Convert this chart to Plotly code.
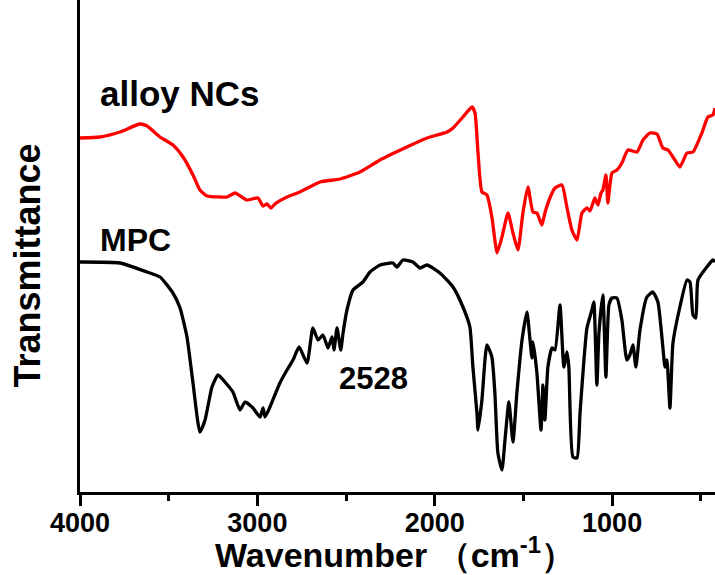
import plotly.graph_objects as go

# MPC spectrum (black)
mpc_wn = [4000, 3775, 3622, 3549, 3476, 3436, 3397, 3363, 3324, 3295, 3256, 3222, 3183, 3138, 3098, 3070,
          3025, 2985, 2968, 2957, 2929, 2873, 2833, 2799, 2765, 2720, 2687, 2658, 2630, 2602, 2579, 2568,
          2551, 2530, 2517, 2495, 2461, 2405, 2365, 2309, 2236, 2213, 2179, 2123, 2083, 2044, 1971, 1897,
          1841, 1802, 1785, 1762, 1756, 1734, 1706, 1678, 1661, 1644, 1621, 1604, 1582, 1559, 1537, 1508,
          1480, 1463, 1452, 1446, 1424, 1401, 1390, 1379, 1362, 1339, 1322, 1294, 1272, 1255, 1244, 1221,
          1198, 1181, 1142, 1114, 1103, 1086, 1074, 1052, 1035, 1018, 1001, 973, 945, 917, 900, 883, 866,
          843, 804, 770, 742, 714, 702, 691, 674, 657, 618, 578, 561, 544, 528, 516, 466, 432, 420]
mpc_t = [230, 229, 220, 215, 199, 184, 155, 109, 60, 72, 105, 117, 110, 100, 82, 90,
         84, 75, 84, 75, 85, 109, 122, 132, 145, 129, 164, 152, 157, 144, 155, 142,
         164, 142, 159, 182, 202, 210, 220, 227, 229, 225, 232, 230, 224, 227, 219, 205,
         185, 165, 125, 79, 62, 92, 147, 135, 99, 39, 22, 52, 90, 50, 99, 152,
         180, 152, 134, 150, 119, 62, 107, 72, 125, 144, 142, 187, 125, 140, 125, 35,
         34, 79, 164, 182, 190, 107, 160, 197, 115, 187, 194, 194, 172, 132, 137, 147, 125,
         162, 195, 200, 190, 145, 125, 132, 84, 149, 185, 212, 210, 177, 174, 212, 225, 232, 230]

# alloy NCs spectrum (red)
nc_wn = [4000, 3887, 3775, 3662, 3622, 3549, 3476, 3419, 3363, 3324, 3284, 3211, 3171, 3126, 3059, 2997,
         2968, 2946, 2923, 2901, 2833, 2760, 2647, 2534, 2422, 2309, 2157, 2044, 1931, 1897, 1841, 1790,
         1773, 1756, 1734, 1706, 1678, 1661, 1649, 1621, 1587, 1559, 1531, 1503, 1475, 1446, 1424, 1396,
         1379, 1351, 1322, 1283, 1255, 1227, 1198, 1170, 1142, 1125, 1097, 1080, 1063, 1052, 1035, 1029,
         1024, 1001, 973, 945, 911, 860, 826, 787, 747, 714, 685, 646, 618, 578, 544, 494, 460, 432, 420]
nc_t = [354, 355, 360, 368, 366, 355, 347, 335, 317, 302, 296, 295, 295, 299, 292, 294,
        286, 288, 284, 288, 295, 300, 310, 313, 320, 332, 345, 354, 360, 364, 375, 385,
        379, 339, 300, 297, 275, 252, 239, 255, 279, 259, 242, 279, 305, 280, 279, 267,
        279, 294, 304, 307, 285, 262, 252, 279, 284, 281, 294, 287, 299, 302, 317, 302,
        289, 319, 322, 329, 342, 340, 352, 359, 358, 344, 342, 332, 325, 339, 340, 359, 375, 377, 384]

labels = ["alloy NCs", "MPC", "2528"]
label_wn = [3899, 3899, 2551]
label_t = [399, 252, 114]

FONT = "Liberation Sans, Arial, sans-serif"

fig = go.Figure()
fig.add_trace(go.Scatter(x=nc_wn, y=nc_t, mode="lines",
                         line=dict(color="#ff0000", width=3.3, shape="spline", smoothing=0.5),
                         showlegend=False, hoverinfo="skip"))
fig.add_trace(go.Scatter(x=mpc_wn, y=mpc_t, mode="lines",
                         line=dict(color="#000000", width=3.3, shape="spline", smoothing=0.5),
                         showlegend=False, hoverinfo="skip"))

sizes = [35, 32, 31]
for txt, xw, yt, s in zip(labels, label_wn, label_t, sizes):
    fig.add_annotation(x=xw, y=yt, text=txt, showarrow=False, xanchor="left", yanchor="middle",
                       font=dict(family=FONT, size=s, color="black", weight="bold"))

fig.add_annotation(xref="paper", yref="paper", x=-0.082, y=0.46, text="Transmittance",
                   textangle=-90, showarrow=False, xanchor="center", yanchor="middle",
                   font=dict(family=FONT, size=36, color="black", weight="bold"))
fig.add_annotation(xref="paper", yref="paper", x=0.496, y=-0.122,
                   text="Wavenumber （cm<sup>-1</sup>）", showarrow=False,
                   xanchor="center", yanchor="middle",
                   font=dict(family=FONT, size=34, color="black", weight="bold"))

fig.update_layout(
    width=715, height=575,
    margin=dict(l=80, r=0, t=0, b=83),
    paper_bgcolor="white", plot_bgcolor="white",
    xaxis=dict(range=[4000, 420], showgrid=False, zeroline=False,
               showline=True, linecolor="black", linewidth=3,
               ticks="outside", ticklen=11, tickwidth=3, tickcolor="black",
               tick0=0, dtick=1000, ticklabelstandoff=-6,
               minor=dict(ticks="outside", ticklen=6, tickwidth=3, tickcolor="black", dtick=500, tick0=0),
               tickfont=dict(family=FONT, size=27, color="black", weight="bold")),
    yaxis=dict(range=[0, 492], showgrid=False, zeroline=False,
               showline=True, linecolor="black", linewidth=3,
               showticklabels=False, ticks=""),
)

fig.write_html("out.html", config={"displayModeBar": False},
               post_script="document.body.style.margin='0';")
